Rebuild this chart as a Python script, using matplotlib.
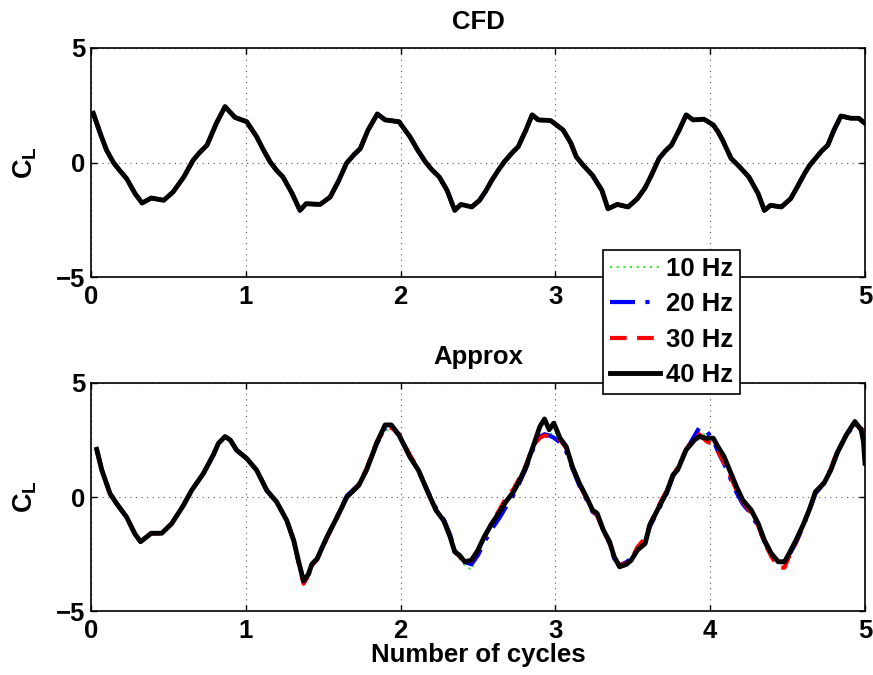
import numpy as np
import matplotlib
matplotlib.use("Agg")
import matplotlib.pyplot as plt

plt.rcParams['font.family'] = ['Liberation Sans', 'DejaVu Sans']
plt.rcParams['font.weight'] = 'bold'
plt.rcParams['mathtext.fontset'] = 'custom'
plt.rcParams['mathtext.it'] = 'Liberation Sans:bold'
plt.rcParams['mathtext.rm'] = 'Liberation Sans:bold'

# ---- data ----
# top panel (CFD): all four sample rates lie on top of each other
cfd_x = [0.015, 0.06, 0.10, 0.145, 0.18, 0.23, 0.285, 0.33, 0.39, 0.47, 0.53, 0.60, 0.66, 0.70, 0.75, 0.81,
         0.866, 0.93, 1.006, 1.07, 1.11, 1.157, 1.20, 1.24, 1.30, 1.35, 1.39, 1.48, 1.545, 1.60, 1.65, 1.70,
         1.74, 1.79, 1.85, 1.90, 1.99, 2.06, 2.11, 2.16, 2.20, 2.25, 2.30, 2.35, 2.39, 2.46, 2.51, 2.55,
         2.59, 2.63, 2.67, 2.72, 2.76, 2.81, 2.85, 2.89, 2.97, 3.05, 3.10, 3.135, 3.18, 3.24, 3.30, 3.34,
         3.40, 3.47, 3.53, 3.58, 3.62, 3.67, 3.71, 3.75, 3.80, 3.845, 3.89, 3.96, 4.02, 4.05, 4.08, 4.135,
         4.19, 4.25, 4.31, 4.35, 4.39, 4.46, 4.52, 4.56, 4.61, 4.64, 4.68, 4.72, 4.76, 4.80, 4.845, 4.91,
         4.96, 5.0]
cfd_40 = [2.15, 1.27, 0.55, 0.0, -0.3, -0.70, -1.36, -1.77, -1.55, -1.65, -1.29, -0.63, 0.1, 0.42, 0.76, 1.71,
          2.44, 1.97, 1.78, 1.13, 0.6, 0.03, -0.35, -0.63, -1.36, -2.09, -1.80, -1.83, -1.51, -0.8, -0.04, 0.35,
          0.61, 1.42, 2.12, 1.86, 1.78, 1.13, 0.55, 0.03, -0.3, -0.63, -1.21, -2.09, -1.83, -1.94, -1.65, -1.25,
          -0.77, -0.35, 0.03, 0.42, 0.69, 1.42, 2.08, 1.86, 1.83, 1.42, 0.85, 0.25, -0.12, -0.56, -1.21, -2.02,
          -1.83, -1.94, -1.58, -1.1, -0.56, 0.18, 0.5, 0.76, 1.42, 2.08, 1.86, 1.89, 1.64, 1.35, 0.98, 0.18,
          -0.19, -0.63, -1.36, -2.09, -1.87, -1.94, -1.58, -1.1, -0.48, -0.15, 0.18, 0.5, 0.76, 1.42, 2.03, 1.93,
          1.93, 1.71]
cfd_30 = cfd_40
cfd_20 = cfd_40
cfd_10 = cfd_40

# bottom panel (Approx)
app_x = [0.037, 0.07, 0.123, 0.166, 0.23, 0.284, 0.32, 0.39, 0.457, 0.52, 0.597, 0.65, 0.726, 0.79, 0.823,
         0.866, 0.90, 0.94, 1.006, 1.07, 1.136, 1.20, 1.265, 1.31, 1.34, 1.373, 1.405, 1.427, 1.46, 1.524,
         1.59, 1.653, 1.73, 1.78, 1.845, 1.90, 1.94, 1.99, 2.06, 2.115, 2.18, 2.23, 2.28, 2.32, 2.35,
         2.38, 2.415, 2.458, 2.50, 2.54, 2.59, 2.64, 2.68, 2.73, 2.77, 2.81, 2.856, 2.90, 2.93, 2.96,
         2.99, 3.03, 3.07, 3.11, 3.155, 3.20, 3.24, 3.27, 3.31, 3.35, 3.38, 3.415, 3.46, 3.49, 3.53,
         3.58, 3.61, 3.67, 3.716, 3.76, 3.79, 3.845, 3.90, 3.93, 3.975, 4.02, 4.05, 4.09, 4.125, 4.17,
         4.21, 4.265, 4.31, 4.35, 4.395, 4.44, 4.48, 4.51, 4.555, 4.60, 4.64, 4.68, 4.735, 4.78, 4.82,
         4.88, 4.935, 4.975, 4.99, 5.0]
app_40 = [2.09, 1.18, 0.15, -0.29, -0.88, -1.62, -1.96, -1.59, -1.59, -1.18, -0.37, 0.29, 1.03, 1.84, 2.35,
          2.65, 2.5, 2.06, 1.69, 1.18, 0.29, -0.22, -1.03, -1.91, -2.79, -3.68, -3.38, -2.94, -2.72, -1.76,
          -0.88, 0.0, 0.51, 1.18, 2.35, 3.16, 3.16, 2.72, 1.76, 1.18, 0.15, -0.59, -1.05, -1.75, -2.4,
          -2.55, -2.84, -2.77, -2.33, -1.75, -1.16, -0.65, -0.21, 0.23, 0.75, 1.33, 2.21, 3.09, 3.42, 2.95,
          3.24, 2.58, 2.21, 1.33, 0.6, 0.01, -0.57, -0.72, -1.45, -1.96, -2.62, -3.06, -2.95, -2.77, -2.33,
          -2.04, -1.23, -0.43, 0.16, 0.97, 1.19, 2.07, 2.51, 2.65, 2.58, 2.58, 2.21, 1.77, 1.19, 0.45,
          -0.13, -0.57, -1.16, -1.89, -2.48, -2.84, -2.84, -2.48, -1.89, -1.23, -0.57, 0.23, 0.6, 1.19, 1.92,
          2.73, 3.31, 2.95, 2.43, 1.48]
app_30 = [2.09, 1.18, 0.15, -0.29, -0.88, -1.62, -1.96, -1.59, -1.59, -1.18, -0.37, 0.29, 1.03, 1.84, 2.35,
          2.65, 2.5, 2.06, 1.69, 1.18, 0.29, -0.22, -1.03, -1.91, -2.85, -3.8, -3.45, -3.0, -2.75, -1.8,
          -0.9, 0.0, 0.55, 1.25, 2.4, 3.0, 3.05, 2.75, 1.85, 1.2, 0.15, -0.6, -1.05, -1.7, -2.4,
          -2.6, -2.85, -2.8, -2.35, -1.8, -1.1, -0.55, -0.05, 0.35, 0.85, 1.4, 2.25, 2.6, 2.7, 2.65,
          2.7, 2.5, 2.15, 1.3, 0.55, -0.05, -0.6, -0.8, -1.5, -2.0, -2.65, -3.0, -2.9, -2.75, -2.2,
          -1.8, -1.2, -0.35, 0.25, 0.95, 1.3, 2.1, 2.6, 2.75, 2.45, 2.3, 2.0, 1.5, 1.0, 0.3,
          -0.2, -0.7, -1.25, -2.0, -2.6, -3.1, -3.1, -2.6, -1.95, -1.25, -0.55, 0.2, 0.65, 1.25, 2.0,
          2.7, 3.2, 3.0, 2.9, 2.8]
app_20 = [2.09, 1.18, 0.15, -0.29, -0.88, -1.62, -1.96, -1.59, -1.59, -1.18, -0.37, 0.29, 1.03, 1.84, 2.35,
          2.65, 2.5, 2.06, 1.69, 1.18, 0.29, -0.22, -1.03, -1.91, -2.8, -3.7, -3.4, -2.95, -2.7, -1.75,
          -0.85, 0.05, 0.55, 1.2, 2.3, 3.05, 3.1, 2.7, 1.8, 1.15, 0.2, -0.5, -1.0, -1.65, -2.35,
          -2.6, -2.85, -2.95, -2.55, -2.0, -1.4, -0.9, -0.45, 0.1, 0.65, 1.25, 2.1, 2.65, 2.75, 2.7,
          2.6, 2.4, 2.0, 1.25, 0.5, -0.1, -0.65, -0.8, -1.45, -2.05, -2.7, -3.0, -2.85, -2.7, -2.3,
          -1.95, -1.3, -0.5, 0.1, 0.9, 1.25, 2.05, 2.7, 3.05, 2.9, 2.5, 2.0, 1.45, 0.9, 0.2,
          -0.3, -0.75, -1.3, -1.95, -2.5, -2.85, -2.85, -2.55, -2.0, -1.3, -0.6, 0.15, 0.6, 1.2, 1.95,
          2.7, 3.2, 3.0, 2.9, 2.8]
app_10 = [2.09, 1.18, 0.15, -0.29, -0.88, -1.62, -1.96, -1.59, -1.59, -1.18, -0.37, 0.29, 1.03, 1.84, 2.35,
          2.65, 2.5, 2.06, 1.69, 1.18, 0.29, -0.22, -1.03, -1.91, -2.8, -3.7, -3.4, -2.95, -2.72, -1.76,
          -0.9, -0.05, 0.5, 1.15, 2.3, 2.9, 3.0, 2.7, 1.8, 1.15, 0.1, -0.6, -1.1, -1.8, -2.45,
          -2.7, -3.0, -3.2, -2.5, -1.9, -1.25, -0.7, -0.25, 0.2, 0.7, 1.3, 2.15, 2.75, 2.8, 2.75,
          2.8, 2.5, 2.15, 1.3, 0.55, -0.05, -0.6, -0.75, -1.5, -2.0, -2.65, -3.05, -2.95, -2.75, -2.3,
          -2.0, -1.25, -0.45, 0.15, 0.95, 1.2, 2.05, 2.65, 2.9, 2.7, 2.45, 2.05, 1.6, 1.1, 0.35,
          -0.2, -0.65, -1.2, -1.95, -2.5, -2.9, -2.9, -2.5, -1.95, -1.25, -0.6, 0.2, 0.6, 1.2, 1.95,
          2.7, 3.2, 3.0, 2.85, 2.7]

labels = ['10 Hz', '20 Hz', '30 Hz', '40 Hz']
xticks = [0, 1, 2, 3, 4, 5]
yticks = [-5, 0, 5]

styles = [dict(color='#33ee33', ls=(0, (1, 2.2)), lw=1.5),
          dict(color='#0000ff', ls=(0, (6, 2.5, 1, 2.5)), lw=3.0),
          dict(color='#ff0000', ls=(0, (4, 2.5)), lw=3.0),
          dict(color='black', ls='-', lw=3.5)]

FS = 18.5

fig = plt.figure(figsize=(8.73, 6.75), dpi=100)
ax1 = fig.add_axes([0.1042, 0.5896, 0.8866, 0.3393])
ax2 = fig.add_axes([0.1042, 0.0948, 0.8866, 0.3378])


def style_axes(ax, title):
    ax.set_xlim(0, 5)
    ax.set_ylim(-5, 5)
    ax.set_xticks(xticks)
    ax.set_yticks(yticks)
    ax.set_yticklabels(['\u22125', '0', '5'])
    ax.tick_params(direction='in', top=True, right=True, length=4, width=1, labelsize=FS)
    ax.tick_params(axis='x', pad=6)
    ax.tick_params(axis='y', pad=4)
    ax.grid(True, color='#555555', ls=(0, (1, 4)), lw=0.8)
    for s in ax.spines.values():
        s.set_linewidth(1.2)
    ax.set_title(title, fontsize=FS, fontweight='bold', pad=14)
    ax.set_ylabel('$C_L$', fontsize=FS + 1, labelpad=12)


for y, st, lab in zip([cfd_10, cfd_20, cfd_30, cfd_40], styles, labels):
    ax1.plot(cfd_x, y, label=lab, solid_joinstyle='round', dash_joinstyle='round', **st)
style_axes(ax1, 'CFD')

lines = []
for y, st, lab in zip([app_10, app_20, app_30, app_40], styles, labels):
    ln, = ax2.plot(app_x, y, label=lab, solid_joinstyle='round', dash_joinstyle='round', **st)
    lines.append(ln)
style_axes(ax2, 'Approx')
ax2.set_xlabel('Number of cycles', fontsize=FS, fontweight='bold', labelpad=0)

leg = fig.legend(lines, labels, loc='center', bbox_to_anchor=(0.7692, 0.523),
                 fontsize=FS, handlelength=1.95, handletextpad=0.25, borderpad=0.25,
                 labelspacing=0.45, fancybox=False, framealpha=1, edgecolor='black',
                 borderaxespad=0)
leg.get_frame().set_linewidth(1.2)

fig.savefig('out.png', dpi=100)
